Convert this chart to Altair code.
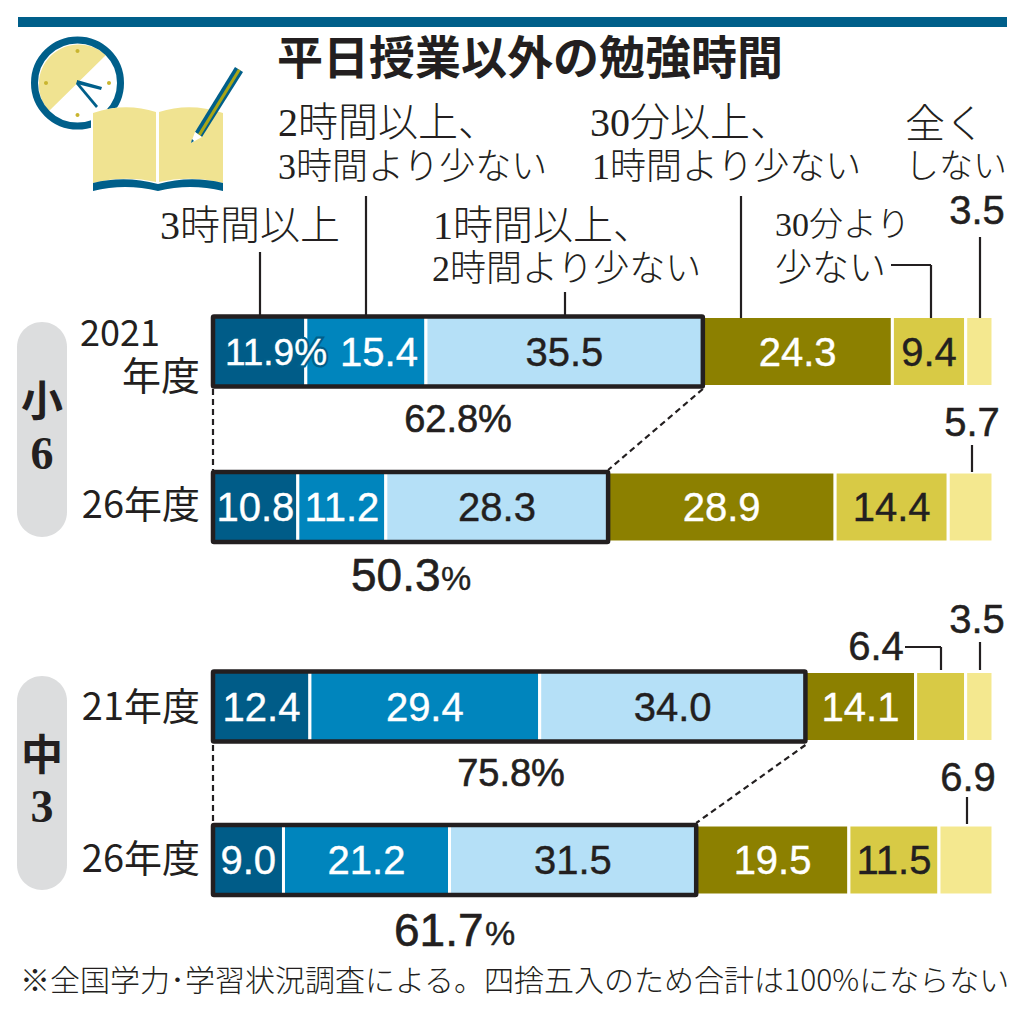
import altair as alt
import pandas as pd

# ---- values ----
rows = ["小6 2021", "小6 26", "中3 21", "中3 26"]
segments = ["3時間以上", "2時間以上、3時間より少ない", "1時間以上、2時間より少ない",
            "30分以上、1時間より少ない", "30分より少ない", "全くしない"]
v_a = [11.9, 15.4, 35.5, 24.3, 9.4, 3.5]
v_b = [10.8, 11.2, 28.3, 28.9, 14.4, 5.7]
v_c = [12.4, 29.4, 34.0, 14.1, 6.4, 3.5]
v_d = [9.0, 21.2, 31.5, 19.5, 11.5, 6.9]
series = [v_a, v_b, v_c, v_d]
totals = [62.8, 50.3, 75.8, 61.7]
colors = ["#005C88", "#0085BD", "#B5E0F7", "#8C8000", "#D8CA45", "#F4E88F"]

INK = "#231F20"
BLUE = "#005F8A"
SANS = "Liberation Sans, Arial, sans-serif"
JP = "Noto Sans CJK JP"
MIX = "Liberation Serif, Noto Sans CJK JP"
ROW_Y = [351.5 - 8, 507 - 8, 706.5 - 8, 860 - 8]

recs = []
shares = []
for r, vals in zip(range(4), series):
    s = 0.0
    k = 100.0 / sum(vals)   # every bar spans the full width
    shares.append(sum(vals[:3]) * k)
    for seg, v in zip(segments, vals):
        recs.append(dict(row=r, seg=seg, v=v, start=s * k, end=(s + v) * k, mid=(s + v / 2) * k,
                         label=f"{v:.1f}"))
        s += v
df = pd.DataFrame(recs)
box = pd.DataFrame(dict(row=range(4), total=shares))

x_scale = alt.Scale(domain=[(8 - 213) / 7.8, (1016 - 213) / 7.8], nice=False, zero=False)
y_scale = alt.Scale(domain=[0, 1, 2, 3], range=ROW_Y, nice=False, zero=False, padding=0)
X = alt.X("start:Q", scale=x_scale, axis=None)
Y = alt.Y("row:Q", scale=y_scale, axis=None)

one = alt.Data(values=[{"a": 0}])
layers = []


def px(v):
    return v - 8


def rule(x1, y1, x2, y2, w=2.2, color=INK):
    layers.append(alt.Chart(one).mark_rule(color=color, strokeWidth=w).encode(
        x=alt.value(px(x1)), x2=alt.value(px(x2)), y=alt.value(px(y1)), y2=alt.value(px(y2))))


def text(t, x, y, size, color=INK, align="left", font=JP, weight=400, sw=0.0):
    kw = dict(text=t, fontSize=size, color=color, align=align, baseline="middle",
              font=font, fontWeight=weight)
    if sw:
        kw["stroke"] = color
        kw["strokeWidth"] = sw
    layers.append(alt.Chart(one).mark_text(**kw).encode(x=alt.value(px(x)), y=alt.value(px(y))))


def shape(path, fill=None, stroke=None, w=0.0):
    kw = dict(shape=path, size=4, opacity=1, filled=fill is not None, strokeWidth=w)
    if fill:
        kw["fill"] = fill
    if stroke:
        kw["stroke"] = stroke
    layers.append(alt.Chart(one).mark_point(**kw).encode(x=alt.value(-8), y=alt.value(-8)))


def rect(x1, y1, x2, y2, color, radius=0):
    layers.append(alt.Chart(one).mark_rect(color=color, cornerRadius=radius).encode(
        x=alt.value(px(x1)), x2=alt.value(px(x2)), y=alt.value(px(y1)), y2=alt.value(px(y2))))


# header band and pills
rect(18, 17, 1007, 27, BLUE)
rect(17, 322, 67, 537, "#DCDDDE", 25)
rect(17, 676, 67, 890, "#DCDDDE", 25)

# clock
shape("M106,55 A40,40 0 0 0 49,111 Z", fill="#F0E391")
shape("M34.5,83 A43,43 0 0 1 120.5,83 A43,43 0 0 1 34.5,83 Z", stroke=BLUE, w=7)
for cx, cy in [(77.5, 51), (46, 83), (109, 83), (77.5, 115)]:
    shape(f"M{cx-2},{cy} A2,2 0 0 1 {cx+2},{cy} A2,2 0 0 1 {cx-2},{cy} Z", fill="#C9B52F")
shape("M77,80 L102,87 L101,90 L77,84 Z", fill=BLUE)
shape("M77,81 L98,106 L96,108 L76,84 Z", fill=BLUE)

# book
shape("M91,115 L93,113 Q125,102 156,112 L156,184 L91,192 Z", fill="#FFFFFF")
shape("M93,113 Q125,102 156,112 L156,182 Q125,175 93,183 Z", fill="#F0E391")
shape("M159,112 Q190,102 223,113 L223,183 Q190,175 159,182 Z", fill="#F0E391")
shape("M93,183 Q125,175 158,184 Q190,175 223,183 L223,191 Q190,183 158,191 Q125,183 93,191 Z", fill=BLUE)

# pencil
shape("M195,132 L235,67 L243,72 L202,137 Z", fill=BLUE)
shape("M198,134 L238,69 L240.5,70.5 L200.5,136 Z", fill="#A9A516")
shape("M195,132 L202,137 L191,143 Z", fill="#FFFFFF")
shape("M192,139 L194,141 L191,143 Z", fill=BLUE)

# stacked segments
layers.append(alt.Chart(df).mark_bar(height=70, stroke="#FFFFFF", strokeWidth=3).encode(
    x=X, x2="end:Q", y=Y,
    color=alt.Color("seg:N", scale=alt.Scale(domain=segments, range=colors), legend=None)))

# outlined boxes
layers.append(alt.Chart(box).mark_bar(height=70, fillOpacity=0, stroke="#231F20", strokeWidth=4.5,
                                      cornerRadius=1).encode(
    x=alt.X("zero:Q", scale=x_scale, axis=None), x2="total:Q", y=Y).transform_calculate(zero="0"))

# in-bar labels
light = [segments[2], segments[4]]
dark = [segments[0], segments[1], segments[3]]
hidden = [(0, 5), (1, 5), (2, 5), (3, 5), (2, 4)]
df["hide"] = [(r.row, segments.index(r.seg)) in hidden for r in df.itertuples()]
bar_labels = df[~df.hide & ~((df.row == 0) & df.seg.isin(segments[:2]))]
for segs, col in [(dark, "#FFFFFF"), (light, INK)]:
    layers.append(alt.Chart(bar_labels[bar_labels.seg.isin(segs)]).mark_text(
        fontSize=40, font=SANS, color=col, stroke=col, strokeWidth=0.4,
        baseline="middle", align="center", dy=2).encode(
        x=alt.X("mid:Q", scale=x_scale, axis=None), y=Y, text="label:N"))

# the first row labels are shifted in the source
text("15.4", 379, 353.5, 40, "#FFFFFF", "center", SANS, sw=0.4)
text("11.9%", 276, 353.5, 37, BLUE, "center", SANS, sw=5)
text("11.9%", 276, 353.5, 37, "#FFFFFF", "center", SANS, sw=0.4)

# leader lines
for x1, y1, x2, y2 in [(260, 252, 260, 316), (366, 196, 366, 316), (565, 292, 565, 316),
                       (741, 196, 741, 318), (891, 265, 931, 265), (931, 265, 931, 318),
                       (980, 237, 980, 318), (972, 445, 972, 472),
                       (905, 647, 941, 647), (941, 647, 941, 670), (980, 642, 980, 670),
                       (967, 797, 967, 824)]:
    rule(x1, y1, x2, y2)

# dashed connectors
for r_total, n_total, y1, y2 in [(shares[0], shares[1], 389, 470), (shares[2], shares[3], 745, 823)]:
    layers.append(alt.Chart(one).mark_rule(color=INK, strokeWidth=2.2, strokeDash=[6, 4]).encode(
        x=alt.X(datum=0, scale=x_scale, axis=None), x2=alt.X2(datum=0),
        y=alt.value(px(y1)), y2=alt.value(px(y2))))
    layers.append(alt.Chart(one).mark_rule(color=INK, strokeWidth=2.2, strokeDash=[6, 4]).encode(
        x=alt.X(datum=r_total, scale=x_scale, axis=None), x2=alt.X2(datum=n_total),
        y=alt.value(px(y1)), y2=alt.value(px(y2))))

# title
text("平日授業以外の勉強時間", 277, 60, 46, INK, weight=700)

# category headings
for t, x, y, fs in [("2時間以上、", 278, 124, 40), ("3時間より少ない", 278, 168, 36),
                    ("30分以上、", 590, 124, 40), ("1時間より少ない", 592, 168, 36),
                    ("全く", 905, 126, 40), ("しない", 905, 168, 34),
                    ("3時間以上", 160, 227, 40),
                    ("1時間以上、", 433, 227, 40), ("2時間より少ない", 432, 270, 36),
                    ("30分より", 775, 226, 34), ("少ない", 775, 270, 37)]:
    text(t, x, y, fs, INK, font=MIX, weight=300)

# outside values
for t, x, y in [(v_a[5], 977, 212), (v_b[5], 972, 424), (v_c[5], 977, 621), (v_c[4], 876, 648),
                (v_d[5], 968, 779)]:
    text(f"{t:.1f}", x, y, 40, INK, "center", SANS, sw=0.5)

# row labels
text("2021", 160, 335, 36, INK, "right", JP)
text("年度", 200, 378, 39, INK, "right", JP)
text("26年度", 200, 507, 38, INK, "right", JP)
text("21年度", 200, 709, 38, INK, "right", JP)
text("26年度", 200, 861, 38, INK, "right", JP)

# group tags
text("小", 42, 403, 42, INK, "center", JP, 700)
text("6", 42, 455, 46, INK, "center", "Liberation Serif", 700)
text("中", 42, 757, 42, INK, "center", JP, 700)
text("3", 42, 808, 46, INK, "center", "Liberation Serif", 700)

# totals
text(f"{totals[0]}%", 458, 421, 38, INK, "center", SANS, sw=0.6)
text(f"{totals[2]}%", 511, 775, 38, INK, "center", SANS, sw=0.6)
text(f"{totals[1]}", 351, 577, 46, INK, "left", SANS, sw=0.6)
text("%", 441, 580, 34, INK, "left", SANS, sw=0.4)
text(f"{totals[3]}", 394, 932, 46, INK, "left", SANS, sw=0.6)
text("%", 485, 935, 34, INK, "left", SANS, sw=0.4)

# footnote
text("※全国学力･学習状況調査による。四捨五入のため合計は100%にならない", 20, 982, 30, INK, font=JP, weight=300)

chart = alt.layer(*layers).properties(
    width=1008, height=1008, padding=0, autosize=alt.AutoSizeParams(type="none")
).configure_view(stroke=None)

chart.save("out.html", embed_options={"renderer": "svg", "actions": False})
